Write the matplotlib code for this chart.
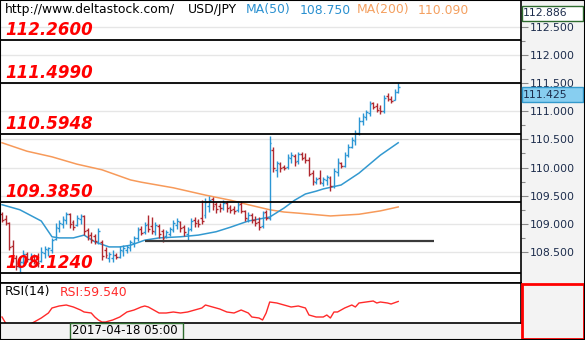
import matplotlib
matplotlib.use('Agg')
import matplotlib.pyplot as plt
from matplotlib.patches import Rectangle
from matplotlib.ticker import FixedLocator, FormatStrFormatter

# hourly USD/JPY bars
opens = [109.18, 109.09, 109.02, 108.61, 108.39, 108.23, 108.32, 108.46, 108.38, 108.43,
         108.39, 108.34, 108.48, 108.54, 108.54, 108.73, 108.93, 109.00, 109.07, 109.18,
         109.03, 108.98, 109.09, 109.14, 108.89, 108.80, 108.78, 108.68, 108.68, 108.54,
         108.39, 108.39, 108.45, 108.41, 108.52, 108.54, 108.57, 108.66, 108.75, 108.91,
         108.86, 109.00, 108.96, 108.86, 108.96, 108.87, 108.78, 108.82, 108.89, 108.98,
         109.03, 108.94, 108.82, 108.91, 109.07, 109.05, 109.10, 109.16, 109.32, 109.44,
         109.35, 109.32, 109.28, 109.37, 109.30, 109.26, 109.25, 109.35, 109.23, 109.09,
         109.16, 109.07, 109.03, 108.96, 109.21, 109.10, 110.31, 109.96, 110.06, 110.01,
         110.01, 110.17, 110.21, 110.12, 110.24, 110.19, 110.13, 109.90, 109.74, 109.81,
         109.73, 109.78, 109.81, 109.67, 109.92, 110.08, 110.03, 110.22, 110.37, 110.47,
         110.61, 110.83, 110.90, 110.97, 111.15, 111.09, 111.06, 111.00, 111.27, 111.22,
         111.20, 111.34]
highs = [109.21, 109.16, 109.03, 108.71, 108.45, 108.39, 108.54, 108.50, 108.48, 108.46,
         108.48, 108.59, 108.61, 108.59, 108.75, 109.02, 109.07, 109.14, 109.21, 109.19,
         109.07, 109.16, 109.18, 109.16, 108.93, 108.86, 108.82, 108.93, 108.71, 108.59,
         108.50, 108.54, 108.48, 108.61, 108.62, 108.62, 108.71, 108.78, 108.94, 108.96,
         109.03, 109.16, 109.12, 109.03, 109.00, 108.91, 108.89, 108.94, 109.07, 109.10,
         109.05, 108.98, 108.94, 109.10, 109.12, 109.09, 109.42, 109.46, 109.50, 109.48,
         109.39, 109.37, 109.42, 109.41, 109.34, 109.32, 109.39, 109.41, 109.25, 109.21,
         109.19, 109.14, 109.12, 109.23, 109.25, 110.56, 110.37, 110.12, 110.10, 110.05,
         110.24, 110.28, 110.24, 110.28, 110.28, 110.26, 110.19, 109.96, 109.83, 109.96,
         109.83, 109.87, 109.85, 109.99, 110.17, 110.10, 110.28, 110.42, 110.54, 110.67,
         110.90, 110.97, 111.02, 111.18, 111.16, 111.15, 111.11, 111.29, 111.32, 111.27,
         111.40, 111.50]
lows = [109.03, 108.98, 108.54, 108.32, 108.18, 108.15, 108.29, 108.32, 108.30, 108.29,
        108.23, 108.32, 108.39, 108.43, 108.48, 108.71, 108.86, 108.93, 109.00, 108.93,
        108.89, 108.96, 109.00, 108.80, 108.71, 108.66, 108.64, 108.64, 108.36, 108.39,
        108.32, 108.32, 108.38, 108.39, 108.43, 108.48, 108.52, 108.59, 108.70, 108.80,
        108.82, 108.86, 108.82, 108.80, 108.75, 108.68, 108.75, 108.78, 108.86, 108.91,
        108.86, 108.78, 108.70, 108.87, 108.94, 108.94, 109.00, 109.10, 109.21, 109.25,
        109.19, 109.21, 109.25, 109.21, 109.19, 109.18, 109.21, 109.19, 109.05, 109.03,
        109.02, 108.96, 108.89, 108.93, 109.07, 109.07, 109.92, 109.83, 109.92, 109.96,
        109.97, 110.08, 110.03, 110.06, 110.13, 110.08, 109.85, 109.69, 109.71, 109.71,
        109.67, 109.69, 109.58, 109.64, 109.85, 109.99, 110.01, 110.19, 110.35, 110.40,
        110.58, 110.76, 110.85, 110.92, 111.04, 110.99, 110.95, 110.97, 111.18, 111.15,
        111.20, 111.32]
closes = [109.07, 109.02, 108.59, 108.39, 108.25, 108.32, 108.46, 108.38, 108.43, 108.34,
          108.30, 108.50, 108.55, 108.57, 108.71, 108.94, 109.02, 109.09, 109.18, 109.00,
          108.94, 109.10, 109.14, 108.87, 108.78, 108.71, 108.70, 108.87, 108.43, 108.45,
          108.46, 108.45, 108.41, 108.54, 108.57, 108.59, 108.68, 108.75, 108.89, 108.84,
          108.98, 108.91, 108.87, 108.98, 108.82, 108.75, 108.86, 108.91, 109.02, 109.05,
          108.93, 108.86, 108.89, 109.05, 109.02, 109.00, 109.05, 109.39, 109.42, 109.32,
          109.26, 109.28, 109.37, 109.28, 109.25, 109.23, 109.34, 109.23, 109.10, 109.16,
          109.07, 109.02, 108.94, 109.19, 109.10, 110.44, 109.99, 110.08, 109.99, 109.99,
          110.19, 110.22, 110.10, 110.24, 110.17, 110.13, 109.89, 109.76, 109.80, 109.74,
          109.80, 109.83, 109.67, 109.94, 110.10, 110.03, 110.22, 110.37, 110.49, 110.61,
          110.83, 110.92, 110.99, 111.13, 111.08, 111.02, 111.00, 111.24, 111.22, 111.18,
          111.34, 111.425]

ma50_idx = [0, 5, 11, 14, 16, 20, 23, 26, 30, 33, 36, 40, 44, 50, 55, 60, 64, 69, 75, 79,
            82, 85, 88, 90, 95, 100, 106, 111]
ma50_vals = [109.34, 109.25, 109.05, 108.77, 108.75, 108.75, 108.80, 108.68, 108.59, 108.59,
             108.62, 108.71, 108.75, 108.77, 108.80, 108.86, 108.94, 109.05, 109.12, 109.28,
             109.42, 109.53, 109.58, 109.62, 109.69, 109.90, 110.22, 110.44]

ma200_idx = [0, 7, 14, 21, 28, 36, 39, 48, 57, 64, 69, 75, 79, 83, 92, 100, 106, 111]
ma200_vals = [110.44, 110.29, 110.19, 110.06, 109.96, 109.78, 109.74, 109.64, 109.51, 109.42,
              109.34, 109.25, 109.21, 109.19, 109.14, 109.17, 109.23, 109.30]

rsi_idx = [0, 1, 3, 6, 9, 10, 11, 13, 14, 16, 18, 20, 22, 23, 25, 26, 27, 28, 29, 31, 33,
           35, 37, 39, 40, 41, 42, 44, 46, 48, 50, 52, 54, 56, 57, 59, 61, 63, 65, 67, 69,
           70, 72, 73, 74, 75, 77, 79, 81, 83, 84, 85, 86, 88, 90, 91, 92, 93, 94, 96, 98,
           99, 100, 102, 104, 105, 106, 108, 109, 111]
rsi_vals = [44, 38, 31, 33, 39, 41, 43, 48, 53, 55, 56, 54, 51, 49, 48, 44, 41, 39, 39, 41,
            44, 49, 51, 54, 55, 54, 52, 48, 48, 49, 48, 49, 51, 53, 56, 54, 52, 49, 48, 51,
            48, 44, 43, 41, 48, 59, 58, 56, 54, 55, 54, 53, 46, 44, 44, 46, 43, 49, 49, 53,
            56, 54, 58, 59, 60, 58, 59, 58, 57, 59.54]

levels = [112.26, 111.499, 110.5948, 109.385, 108.124]
level_labels = ['112.2600', '111.4990', '110.5948', '109.3850', '108.1240']
support = 108.70
support_from, support_to = 40, 121

price_ticks = [108.5, 109.0, 109.5, 110.0, 110.5, 111.0, 111.5, 112.0, 112.5]

UP = '#2b96d4'
DOWN = '#b0282e'
W, H = 585, 340


def box(x0, y0, x1, y1):
    # pixel box (top-left origin) -> figure fraction rect
    return [x0 / W, 1 - y1 / H, (x1 - x0) / W, (y1 - y0) / H]


def px(x, y):
    return x / W, 1 - y / H


fig = plt.figure(figsize=(5.85, 3.4), dpi=100)
fig.patches.append(Rectangle((521 / W, 0), 64 / W, 1, transform=fig.transFigure,
                             facecolor='#f3f3f3', edgecolor='none', zorder=-1))
fig.patches.append(Rectangle((0, 0), 1, 17 / H, transform=fig.transFigure,
                             facecolor='#f3f3f3', edgecolor='none', zorder=-1))

ax = fig.add_axes(box(0, 0, 521, 283))
rsi_ax = fig.add_axes(box(0, 283, 521, 323))

idx = list(range(len(closes)))
cols = [UP if c >= o else DOWN for o, c in zip(opens, closes)]

ax.vlines(idx, lows, highs, colors=cols, lw=1.0, zorder=3)
ax.hlines(opens, [i - 0.5 for i in idx], idx, colors=cols, lw=1.0, zorder=3)
ax.hlines(closes, idx, [i + 0.5 for i in idx], colors=cols, lw=1.0, zorder=3)

ax.plot(ma200_idx, ma200_vals, color='#f79a5a', lw=1.1, zorder=2)
ax.plot(ma50_idx, ma50_vals, color='#3399d0', lw=1.1, zorder=2)

for lv, lab in zip(levels, level_labels):
    ax.axhline(lv, color='black', lw=1.3, zorder=4)
    ax.annotate(lab, xy=(0, lv), xycoords=('axes fraction', 'data'), xytext=(5, 5),
                textcoords='offset pixels', va='baseline', ha='left', color='#ff0000',
                fontsize=12, fontweight='bold', fontstyle='italic', zorder=5)
ax.hlines(support, support_from, support_to, color='#3a3a3a', lw=1.6, zorder=4)

ax.set_xlim(-0.56, 145.4)
ax.set_ylim(107.949, 112.976)
ax.yaxis.tick_right()
ax.yaxis.set_major_locator(FixedLocator(price_ticks))
ax.yaxis.set_minor_locator(FixedLocator([p + 0.25 for p in price_ticks]))
ax.yaxis.set_major_formatter(FormatStrFormatter('%.3f'))
ax.tick_params(axis='y', which='major', length=5, width=0.8, color='#888888',
               labelsize=7.8, labelcolor='#1c2c4c', pad=1)
ax.tick_params(axis='y', which='minor', length=3, width=0.8, color='#888888')
ax.tick_params(axis='x', bottom=False, labelbottom=False)
ax.grid(axis='y', color='#e6e6e6', lw=1, zorder=0)
for s in ['left', 'top']:
    ax.spines[s].set_visible(False)
for s in ['right', 'bottom']:
    ax.spines[s].set_color('black')
    ax.spines[s].set_linewidth(1.2)

rsi_ax.plot(rsi_idx, rsi_vals, color='#ff2a2a', lw=1)
rsi_ax.set_xlim(-0.56, 145.4)
rsi_ax.set_ylim(38, 78)
rsi_ax.set_xticks([])
rsi_ax.set_yticks([])
rsi_ax.spines['left'].set_visible(False)
for s in ['right', 'bottom', 'top']:
    rsi_ax.spines[s].set_color('black')
    rsi_ax.spines[s].set_linewidth(1.2)

fs = 8.9
fig.text(*px(5, 10), 'http://www.deltastock.com/', fontsize=fs, va='center', color='black')
fig.text(*px(188, 10), 'USD/JPY', fontsize=fs, va='center', color='black')
fig.text(*px(246, 10), 'MA(50)', fontsize=fs, va='center', color='#2a90d0')
fig.text(*px(300, 10), '108.750', fontsize=fs, va='center', color='#2a90d0')
fig.text(*px(357, 10), 'MA(200)', fontsize=fs, va='center', color='#f4a060')
fig.text(*px(418, 10), '110.090', fontsize=fs, va='center', color='#f4a060')

fig.text(*px(5, 292), 'RSI(14)', fontsize=fs, va='center', color='black')
fig.text(*px(60, 292), 'RSI:59.540', fontsize=fs, va='center', color='#ff2a2a')

# value boxes on the price scale
fig.patches.append(Rectangle(px(521.5, 20.5), 61 / W, 15 / H, transform=fig.transFigure,
                             facecolor='white', edgecolor='#2e6b2e', lw=1))
fig.text(*px(523, 13), '112.886', fontsize=7.8, va='center', color='#1c2c4c')
fig.patches.append(Rectangle(px(521.5, 102), 61 / W, 15 / H, transform=fig.transFigure,
                             facecolor='#87cef0', edgecolor='#3399cc', lw=1))
fig.text(*px(523, 95), '111.425', fontsize=7.8, va='center', color='#1c2c4c')

# date box and red box at the bottom
fig.patches.append(Rectangle(px(70, 339), 113 / W, 16 / H, transform=fig.transFigure,
                             facecolor='#f3f3f3', edgecolor='#2e6b2e', lw=1))
fig.text(*px(72, 331), '2017-04-18 05:00', fontsize=8.5, va='center', color='black')
fig.patches.append(Rectangle(px(521.5, 338.5), 62 / W, 55 / H, transform=fig.transFigure,
                             facecolor='#f3f3f3', edgecolor='#ff0000', lw=2))

fig.patches.append(Rectangle((0, 0), 1, 1, transform=fig.transFigure, fill=False,
                             edgecolor='black', lw=1.5, zorder=10))

fig.savefig('out.png', dpi=100)
